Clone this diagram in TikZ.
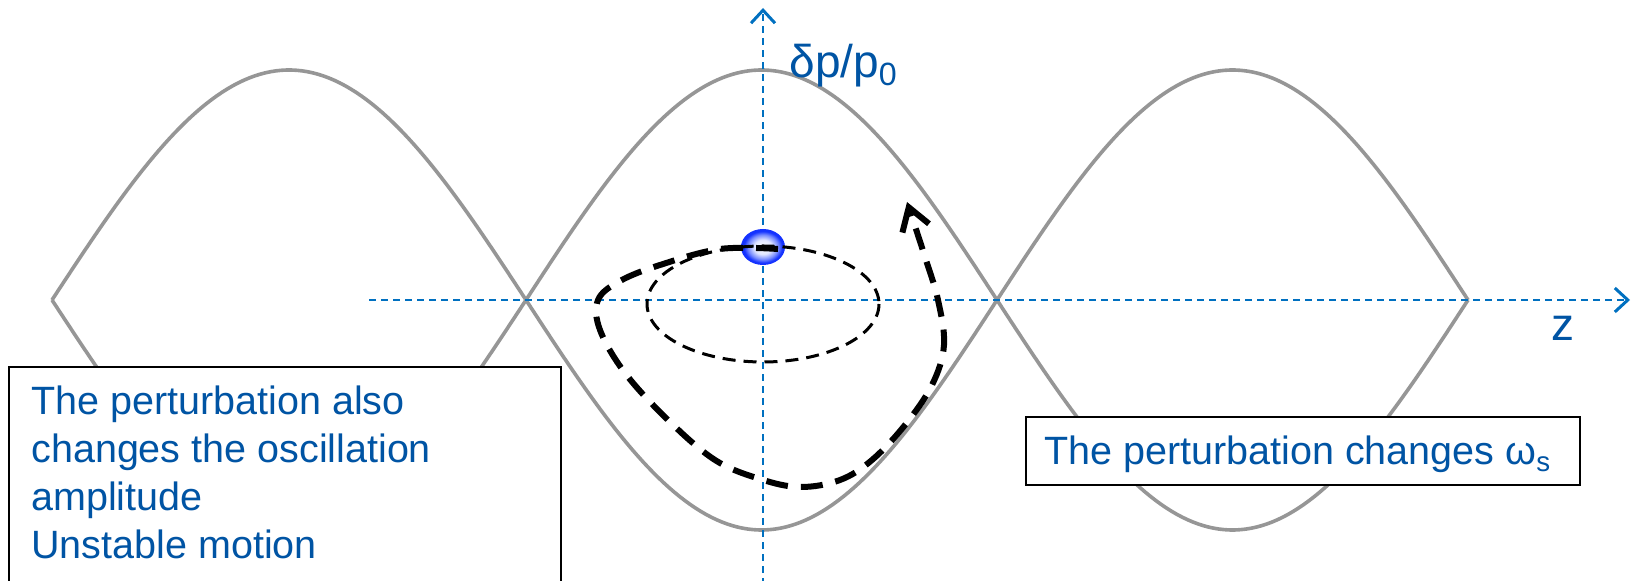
\documentclass[tikz,border=0pt]{standalone}
\usepackage{fontspec}
\setmainfont{Liberation Sans}
\usetikzlibrary{arrows.meta}
\definecolor{sepgray}{RGB}{150,150,150}
\definecolor{axisblue}{RGB}{0,112,192}
\definecolor{txtblue}{RGB}{0,84,164}
\definecolor{bunchblue}{RGB}{20,50,255}
\definecolor{bunchmid}{RGB}{120,140,255}
\definecolor{bunchlight}{RGB}{225,230,255}
\pgfdeclareradialshading{bunchshade}{\pgfpoint{0bp}{0bp}}{color(0bp)=(white); color(10bp)=(bunchlight); color(17bp)=(bunchmid); color(22bp)=(bunchblue); color(50bp)=(bunchblue)}
\begin{document}
\begin{tikzpicture}[x=0.5pt,y=-0.5pt,
  sep/.style={draw=sepgray, line width=1.8pt, line join=round},
  axis/.style={draw=axisblue, line width=1pt, dash pattern=on 3.5pt off 2.5pt,
    -{Straight Barb[length=6.5pt,width=12pt,line width=1.5pt]}},
  orbit/.style={draw=black, line width=1.5pt, dash pattern=on 6.5pt off 4pt},
  spiral/.style={draw=black, line width=3pt, dash pattern=on 11pt off 6.5pt,
    -{Straight Barb[length=11pt,width=14pt,line width=3pt]}},
  lbl/.style={text=txtblue, font=\fontsize{23}{27}\selectfont, inner sep=0pt},
  boxtxt/.style={text=txtblue, font=\fontsize{19.75}{24}\selectfont, inner sep=0pt, align=left},
  boxframe/.style={draw=black, line width=1pt, fill=white, inner sep=0pt}
]
\useasboundingbox (0,0) rectangle (1632,581);
% separatrices
\foreach \a/\b in {52/526, 526/997, 997/1468} {
  \draw[sep] plot[domain=\a:\b, samples=90] (\x, {300-230*sin((\x-\a)/(\b-\a)*180)});
  \draw[sep] plot[domain=\a:\b, samples=90] (\x, {300+230*sin((\x-\a)/(\b-\a)*180)});
}
% axes
\coordinate (vbot) at (763,585);
\coordinate (vtop) at (763,8);
\coordinate (hl) at (369,300);
\coordinate (hr) at (1630,300);
\draw[axis] (vbot) -- (vtop);
\draw[axis] (hl) -- (hr);
\node[lbl, anchor=base west] (dp) at (789,78) {δp/p\textsubscript{0}};
\node[lbl, anchor=base west] (zl) at (1551,341) {z};
% bunch
\shade[shading=bunchshade] (763,247) ellipse [x radius=22, y radius=18];
% small orbit
\draw[orbit] (763,304) ellipse [x radius=116, y radius=58];
% growing orbit
\draw[spiral] plot[smooth, tension=0.6] coordinates {(778,249) (720,249) (660,265) (620,281) (598,300) (600,330) (625,373) (668,420) (715,460) (760,479) (800,487) (840,480) (872,460) (905,425) (932,385) (944,345) (938,300) (926,260) (907,202)};
% boxes
\node[boxframe, anchor=north west, minimum width=276pt, minimum height=120pt] (lbox) at (8,366) {};
\node[boxtxt, anchor=north west] (ltext) at (31,385) {The perturbation also\\changes the oscillation\\amplitude\\Unstable motion};
\node[boxframe, anchor=north west, minimum width=277pt, minimum height=34pt] (rbox) at (1025,416) {};
\node[boxtxt, anchor=base west] (rtext) at (1044,465) {The perturbation changes ω\textsubscript{s}};
\end{tikzpicture}
\end{document}
